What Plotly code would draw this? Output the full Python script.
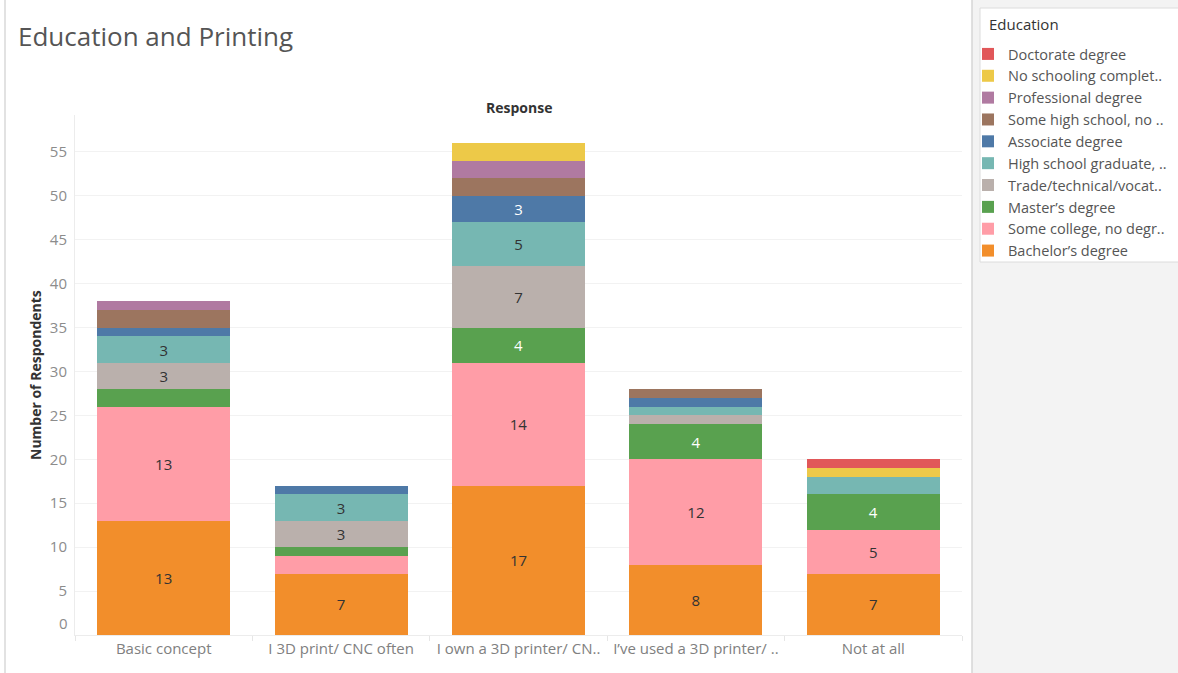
import plotly.graph_objects as go

# Survey responses (x categories)
responses = [
    "Basic concept",
    "I 3D print/ CNC often",
    "I own a 3D printer/ CN..",
    "I\u2019ve used a 3D printer/ ..",
    "Not at all",
]

# Education levels, bottom of the stack first
education = [
    "Bachelor\u2019s degree",
    "Some college, no degr..",
    "Master\u2019s degree",
    "Trade/technical/vocat..",
    "High school graduate, ..",
    "Associate degree",
    "Some high school, no ..",
    "Professional degree",
    "No schooling complet..",
    "Doctorate degree",
]

# Respondent counts per education level, one value per response
bachelor = [13, 7, 17, 8, 7]
some_college = [13, 2, 14, 12, 5]
masters = [2, 1, 4, 4, 4]
trade = [3, 3, 7, 1, 0]
high_school = [3, 3, 5, 1, 2]
associate = [1, 1, 3, 1, 0]
some_high_school = [2, 0, 2, 1, 0]
professional = [1, 0, 2, 0, 0]
no_schooling = [0, 0, 2, 0, 1]
doctorate = [0, 0, 0, 0, 1]

counts = [bachelor, some_college, masters, trade, high_school,
          associate, some_high_school, professional, no_schooling, doctorate]

colors = ["#F28E2B", "#FF9DA7", "#59A14F", "#BAB0AC", "#76B7B2",
          "#4E79A7", "#9C755F", "#B07AA1", "#EDC948", "#E15759"]
label_colors = ["#333333", "#333333", "#ffffff", "#333333", "#333333",
                "#ffffff", "#333333", "#333333", "#333333", "#333333"]

FONT = "Open Sans"

fig = go.Figure()
for name, vals, col, tcol in zip(education, counts, colors, label_colors):
    fig.add_trace(go.Bar(
        x=responses,
        y=vals,
        name=name,
        marker=dict(color=col, line=dict(width=0)),
        text=[str(v) if v >= 3 else "" for v in vals],
        textposition="inside",
        insidetextanchor="middle",
        textangle=0,
        textfont=dict(family=FONT, size=15, color=tcol),
        hovertemplate="%{x}<br>" + name + ": %{y}<extra></extra>",
    ))

# plot area geometry in pixels
W, H = 1178, 673
L, R, T, B = 75, 962, 115, 635


def px(xp):
    return (xp - L) / (R - L)


def py(yp):
    return (B - yp) / (B - T)


shapes = [
    # right-hand panel
    dict(type="rect", xref="paper", yref="paper", x0=px(972), x1=px(W + 5),
         y0=py(H + 5), y1=py(-5), fillcolor="#f3f3f3", line=dict(width=0), layer="below"),
    dict(type="line", xref="paper", yref="paper", x0=px(972), x1=px(972),
         y0=py(H + 5), y1=py(-5), line=dict(color="#d6d6d6", width=1.5)),
    # legend card
    dict(type="rect", xref="paper", yref="paper", x0=px(980), x1=px(W + 3),
         y0=py(262), y1=py(8), fillcolor="#ffffff", line=dict(color="#dcdcdc", width=1), layer="below"),
    # left page border
    dict(type="line", xref="paper", yref="paper", x0=px(5), x1=px(5),
         y0=py(H + 5), y1=py(-5), line=dict(color="#d9d9d9", width=1.5)),
]

annotations = [
    dict(text="Response", xref="paper", yref="paper", x=0.5, y=py(107),
         xanchor="center", yanchor="middle", showarrow=False,
         font=dict(family=FONT, size=14, color="#333333", weight="bold")),
    dict(text="Number of Respondents", xref="paper", yref="paper", x=px(35), y=0.5,
         xanchor="center", yanchor="middle", textangle=-90, showarrow=False,
         font=dict(family=FONT, size=14, color="#333333", weight="bold")),
    # zero label sits slightly above the baseline
    dict(text="0", xref="paper", yref="y", x=px(70), y=0, yshift=12,
         xanchor="right", yanchor="middle", showarrow=False,
         font=dict(family=FONT, size=15, color="#8c8c8c")),
    # legend heading
    dict(text="Education", xref="paper", yref="paper", x=px(987), y=py(24),
         xanchor="left", yanchor="middle", showarrow=False,
         font=dict(family=FONT, size=15, color="#333333")),
]

fig.update_layout(
    width=W, height=H,
    margin=dict(l=L, r=W - R, t=T, b=H - B, autoexpand=False),
    paper_bgcolor="#ffffff",
    plot_bgcolor="#ffffff",
    barmode="stack",
    bargap=0.25,
    title=dict(text="Education and Printing", xref="container", yref="container",
               x=18 / W, y=1 - 37 / H, xanchor="left", yanchor="middle",
               font=dict(family=FONT, size=26, color="#555555")),
    font=dict(family=FONT, color="#555555"),
    showlegend=True,
    legend=dict(
        traceorder="reversed",
        xref="container", yref="container",
        x=968 / W, y=1 - 38 / H, xanchor="left", yanchor="top",
        bgcolor="rgba(0,0,0,0)", borderwidth=0,
        font=dict(family=FONT, size=14.5, color="#555555"),
        itemwidth=30,
        tracegroupgap=0,
    ),
    xaxis=dict(
        showgrid=False,
        automargin=False,
        tickangle=0,
        tickfont=dict(family=FONT, size=15, color="#808080"),
        ticks="outside", tickson="boundaries", ticklen=5, tickcolor="#e6e6e6",
        showline=True, linecolor="#ececec", linewidth=1,
        zeroline=False,
    ),
    yaxis=dict(
        range=[0, 59.2],
        automargin=False,
        tickvals=list(range(5, 60, 5)),
        tickfont=dict(family=FONT, size=15, color="#8c8c8c"),
        showgrid=True, gridcolor="#f2f2f2", gridwidth=1,
        showline=True, linecolor="#ececec", linewidth=1,
        zeroline=False,
        ticks="", ticklabelstandoff=4,
    ),
    shapes=shapes,
    annotations=annotations,
)

fig.write_html("out.html")
